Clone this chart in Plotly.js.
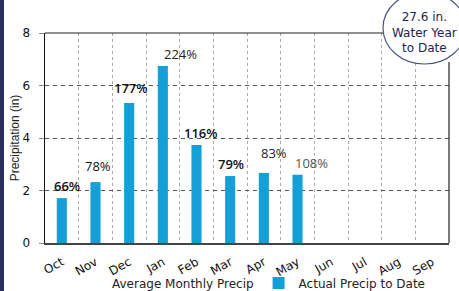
<!DOCTYPE html>
<html>
<head>
<meta charset="utf-8">
<script src="https://cdn.plot.ly/plotly-3.0.1.min.js"></script>
<style>
html,body{margin:0;padding:0;background:#fff;overflow:hidden;}
#chart{width:459px;height:291px;}
</style>
</head>
<body>
<div id="chart"></div>
<script>
// ---- data ----
var months = ["Oct","Nov","Dec","Jan","Feb","Mar","Apr","May","Jun","Jul","Aug","Sep"];
var actualPrecip = [1.71, 2.32, 5.33, 6.74, 3.73, 2.55, 2.67, 2.60, null, null, null, null];
var averagePrecip = [2.6, 3.0, 3.0, 3.0, 3.2, 3.2, 3.2, 2.4, null, null, null, null];
var pctLabels = ["66%","78%","177%","224%","116%","79%","83%","108%"];
var yTicks = [0, 2, 4, 6, 8];
var totalText = "27.6 in.<br>Water Year<br>to Date";

// ---- styling of labels (offsets in px) ----
var labelDX = [5, 2, 2, 18, 4, 1, 10, 14];
var labelDY = [1, 5, 4, 1, 1, 1, 9, 1];
var labelColor = ["#111","#111","#111","#222","#111","#111","#222","#555"];
var labelWeight = [600, 500, 600, 400, 600, 600, 500, 400];

var L = 45, R = 449, T = 33, B = 243, W = 459, H = 291;
function px(x){ return (x - L) / (R - L); }
function py(y){ return (B - y) / (B - T); }

var annotations = pctLabels.map(function(t, i){
  return {
    x: months[i], y: actualPrecip[i], xref: 'x', yref: 'y',
    text: t, showarrow: false, xanchor: 'center', yanchor: 'bottom',
    xshift: labelDX[i], yshift: labelDY[i],
    font: {family: 'Open Sans, Liberation Sans, sans-serif', size: 13, color: labelColor[i], weight: labelWeight[i]}
  };
});
annotations.push({
  x: px(424), y: py(32), xref: 'paper', yref: 'paper',
  text: totalText, showarrow: false, xanchor: 'center', yanchor: 'middle',
  font: {family: 'DejaVu Sans, sans-serif', size: 12, color: '#1d2550'}
});

var traces = [
  {
    type: 'bar', name: 'Average Monthly Precip', x: months, y: averagePrecip,
    marker: {color: 'rgba(0,0,0,0)', line: {width: 0}}, hoverinfo: 'skip'
  },
  {
    type: 'bar', name: 'Actual Precip to Date', x: months, y: actualPrecip,
    width: 0.3, marker: {color: '#149fd6', line: {width: 0}}
  }
];

var layout = {
  width: W, height: H,
  margin: {l: L, r: W - R, t: T, b: H - B, pad: 0, autoexpand: false},
  paper_bgcolor: '#fff', plot_bgcolor: '#fff',
  barmode: 'overlay', bargap: 0.7,
  showlegend: true,
  legend: {
    orientation: 'h', x: px(72), y: py(283), xanchor: 'left', yanchor: 'middle',
    font: {family: 'DejaVu Sans, sans-serif', size: 12, color: '#222'},
    traceorder: 'normal', itemwidth: 30, bgcolor: 'rgba(0,0,0,0)'
  },
  xaxis: {
    type: 'category', categoryorder: 'array', categoryarray: months,
    range: [-0.5, 11.5], tickson: 'boundaries',
    tickangle: -30, ticks: '', showline: true, linecolor: '#444', linewidth: 1.5,
    showgrid: true, gridcolor: '#aaa', griddash: 'dot', gridwidth: 1,
    tickfont: {family: 'DejaVu Sans, sans-serif', size: 12, color: '#111'},
    ticklabelstandoff: 6,
    fixedrange: true
  },
  yaxis: {
    range: [0, 8], tickvals: yTicks, ticktext: yTicks.map(String),
    ticks: 'outside', ticklen: 5, tickcolor: '#888', tickwidth: 1,
    ticklabelstandoff: 6,
    showline: true, linecolor: '#111', linewidth: 1.5,
    showgrid: true, gridcolor: '#555', griddash: '4px,4px', gridwidth: 1,
    zeroline: false,
    tickfont: {family: 'DejaVu Sans, sans-serif', size: 12, color: '#111'},
    title: {text: 'Precipitation (in)', standoff: 0,
      font: {family: 'Liberation Sans, sans-serif', size: 12, color: '#222'}},
    fixedrange: true
  },
  annotations: annotations,
  shapes: [
    {type: 'line', xref: 'paper', yref: 'paper', x0: 0, x1: px(384), y0: 1, y1: 1,
      line: {color: '#222', width: 1.2}},
    {type: 'line', xref: 'paper', yref: 'paper', x0: 1, x1: 1, y0: 0, y1: py(62),
      line: {color: '#222', width: 1.2}},
    {type: 'rect', xref: 'paper', yref: 'paper', x0: px(0), x1: px(4), y0: py(291), y1: py(0),
      fillcolor: '#2b2f5c', line: {width: 0}},
    {type: 'circle', xref: 'paper', yref: 'paper', x0: px(383), x1: px(466), y0: py(64), y1: py(-8),
      fillcolor: '#ffffff', line: {color: '#4a5580', width: 1.2}}
  ]
};

Plotly.newPlot('chart', traces, layout, {displayModeBar: false, staticPlot: true});
</script>
</body>
</html>
